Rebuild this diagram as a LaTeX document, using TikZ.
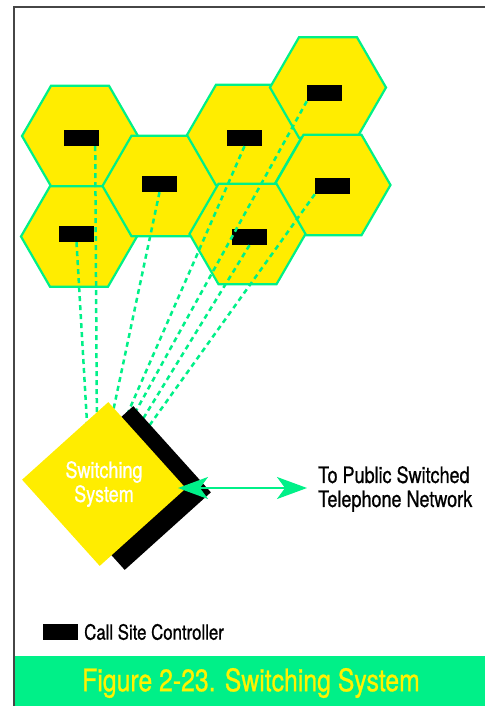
\documentclass[tikz,border=0pt]{standalone}
\usepackage{fontspec}
\setmainfont{TeX Gyre Heros}[FakeStretch=0.8, FakeBold=0.8]
\usetikzlibrary{shapes.geometric,arrows.meta}
\definecolor{cellyellow}{RGB}{255,237,0}
\definecolor{linkgreen}{RGB}{0,240,136}
\definecolor{framegray}{RGB}{70,70,70}
\definecolor{captionyellow}{RGB}{255,242,0}
\begin{document}
\begin{tikzpicture}[x=1pt, y=-1pt,
  cell/.style={regular polygon, regular polygon sides=6, minimum size=116pt, inner sep=0pt,
               draw=linkgreen, line width=2.2pt, fill=cellyellow},
  csc/.style={rectangle, fill=black, minimum width=35pt, minimum height=16pt, inner sep=0pt},
  link/.style={linkgreen, line width=2.5pt, dash pattern=on 5pt off 4pt},
  switchbox/.style={regular polygon, regular polygon sides=4, shape border rotate=42,
                    minimum size=164pt, inner sep=0pt},
  arr/.style={{Stealth[length=30pt,width=22pt,inset=8pt]}-{Stealth[length=30pt,width=22pt,inset=8pt]},
              linkgreen, line width=2pt},
  lbl/.style={font=\fontsize{22.5}{24}\selectfont, align=left, inner sep=0pt}
]
\useasboundingbox (0,0) rectangle (485,706);
\draw[framegray, line width=1.5pt] (14,706) -- (14,7) -- (485,7);

\node[cell] (h1) at (80,136)    {};
\node[cell] (h2) at (79,236.5)  {};
\node[cell] (h3) at (160.5,186) {};
\node[cell] (h4) at (245,135)   {};
\node[cell] (h5) at (328,87.5)  {};
\node[cell] (h6) at (332.5,185) {};
\node[cell] (h7) at (247.5,234) {};

\node[csc] (c1) at (81.5,138)  {};
\node[csc] (c2) at (76.5,234)  {};
\node[csc] (c3) at (159.5,184) {};
\node[csc] (c4) at (244.5,138) {};
\node[csc] (c5) at (324.5,93)  {};
\node[csc] (c6) at (332.5,186) {};
\node[csc] (c7) at (249.5,237) {};

\coordinate (e1) at (97,440);
\coordinate (e2) at (88,440);
\coordinate (e3) at (107,440);
\coordinate (e4) at (116,440);
\coordinate (e5) at (120,440);
\coordinate (e6) at (139,440);
\coordinate (e7) at (130,440);
\draw[link] ([xshift=-4pt]c1.south east) -- (e1);
\draw[link] (c2.south) -- (e2);
\draw[link] (c3.south) -- (e3);
\draw[link] (c4.south) -- (e4);
\draw[link] (c5.south west) -- (e5);
\draw[link] (c6.south west) -- (e6);
\draw[link] (c7.south) -- (e7);

\node[switchbox, fill=black] (swshadow) at (129,488) {};
\node[switchbox, fill=cellyellow, text=white, align=center,
      font=\fontsize{22.5}{24}\selectfont] (sw) at (104,484) {Switching\\System};

\node[lbl, anchor=west] (pstn) at (318,489) {To Public Switched\\Telephone Network};
\coordinate (swport) at (178,488);
\draw[arr] (swport) -- ([xshift=-11pt]pstn.west |- swport);

\node[csc] (key) at (60.5,631.5) {};
\node[anchor=west, inner sep=0pt, font=\fontsize{21}{22}\selectfont] (keylabel) at (84,632) {Call Site Controller};

\fill[linkgreen] (15,656) rectangle (485,706);
\node[text=captionyellow, font=\fontsize{31}{33}\selectfont] (caption) at (251,683) {Figure 2-23. Switching System};
\end{tikzpicture}
\end{document}
